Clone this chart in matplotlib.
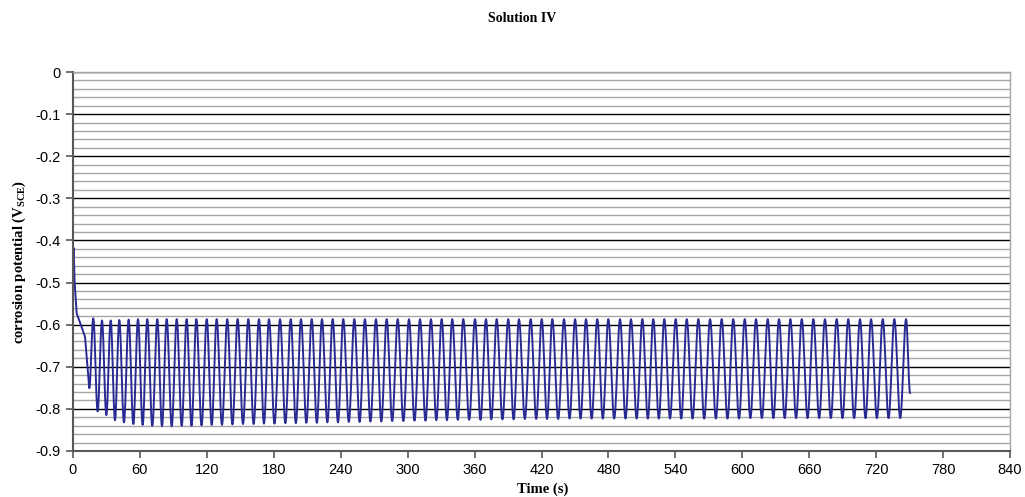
import numpy as np
import matplotlib.pyplot as plt
from matplotlib.ticker import MultipleLocator

# start of the record (time s, potential V)
start_t = [0.0, 0.6, 1.5, 3.3, 7.0, 10.8, 14.6]
start_v = [-0.44, -0.418, -0.50, -0.573, -0.60, -0.629, -0.751]

# oscillation maxima
peak_t = [18.2, 26.0, 33.8, 41.5, 49.9, 58.3, 66.6, 75.6, 84.0, 93.0,
          101.9, 110.6, 119.9, 128.8, 138.3, 147.6, 157.2, 166.7, 175.7, 185.6,
          195.2, 204.4, 214.0, 223.2, 232.8, 242.3, 252.2, 261.7, 271.6, 281.2,
          291.1, 301.2, 311.1, 320.9, 330.5, 340.0, 349.9, 360.4, 370.2, 379.8,
          390.2, 399.8, 410.3, 420.2, 429.7, 440.2, 450.1, 459.9, 470.0, 479.9,
          490.4, 500.2, 510.4, 520.2, 530.1, 540.3, 550.2, 560.6, 571.1, 581.5,
          591.9, 602.2, 612.3, 622.8, 632.9, 643.1, 653.3, 663.7, 674.1, 684.6,
          695.0, 705.5, 715.4, 725.9, 736.3, 746.8]
peak_v = [-0.585, -0.590, -0.590, -0.589, -0.588] + [-0.587] * 71

# minima between consecutive maxima
trough_v = [-0.806, -0.815, -0.827, -0.832, -0.836,
            -0.838, -0.840, -0.841, -0.841, -0.840, -0.840, -0.839,
            -0.838, -0.838, -0.837, -0.836, -0.836, -0.835, -0.835, -0.834,
            -0.834, -0.833, -0.833, -0.832, -0.832, -0.831, -0.831, -0.830, -0.830, -0.829,
            -0.829, -0.828, -0.828, -0.827, -0.827, -0.826, -0.826, -0.826, -0.825, -0.825,
            -0.825, -0.824, -0.824, -0.824, -0.824, -0.823, -0.823, -0.823, -0.823, -0.823,
            -0.823, -0.823, -0.823, -0.823, -0.823, -0.823, -0.823, -0.823, -0.823, -0.823,
            -0.823, -0.822, -0.822, -0.822, -0.822, -0.822, -0.822, -0.822, -0.822, -0.822,
            -0.822, -0.822, -0.822, -0.822, -0.822]

end_t, end_v = 750.4, -0.762

# extrema in time order
ext_t = [start_t[-1]]
ext_v = [start_v[-1]]
for i in range(len(peak_t)):
    ext_t.append(peak_t[i])
    ext_v.append(peak_v[i])
    if i < len(trough_v):
        ext_t.append((peak_t[i] + peak_t[i + 1]) / 2)
        ext_v.append(trough_v[i])
ext_t.append(end_t)
ext_v.append(end_v)

# smooth half-cosine strokes between extrema
t = list(start_t[:-1])
v = list(start_v[:-1])
for k in range(len(ext_t) - 1):
    s = np.linspace(0, 1, 14, endpoint=False)
    w = (1 - np.cos(np.pi * s)) / 2
    t.extend(ext_t[k] + (ext_t[k + 1] - ext_t[k]) * s)
    v.extend(ext_v[k] + (ext_v[k + 1] - ext_v[k]) * w)
t.append(ext_t[-1])
v.append(ext_v[-1])

fig = plt.figure(figsize=(10.25, 4.97), dpi=100)
ax = fig.add_axes([0.0712, 0.0926, 0.9142, 0.7625])

ax.set_xlim(0, 840)
ax.set_ylim(-0.9, 0)
ax.xaxis.set_major_locator(MultipleLocator(60))
ax.yaxis.set_major_locator(MultipleLocator(0.1))
ax.yaxis.set_minor_locator(MultipleLocator(0.02))
ax.grid(which='minor', axis='y', color='#a6a6a6', lw=1.0)
ax.grid(which='major', axis='y', color='black', lw=1.0)
ax.set_axisbelow(True)

ax.plot(t, v, color='#2a2a94', lw=1.4)

for side in ['top', 'right']:
    ax.spines[side].set_color('#a6a6a6')
    ax.spines[side].set_linewidth(1.0)
for side in ['left', 'bottom']:
    ax.spines[side].set_color('#595959')
    ax.spines[side].set_linewidth(1.5)

ax.tick_params(which='minor', length=0)
ax.tick_params(which='major', length=5, width=1.2, color='#595959', pad=4)
ax.set_yticks(np.arange(-0.9, 0.01, 0.1))
ax.set_yticklabels(['-0.9', '-0.8', '-0.7', '-0.6', '-0.5', '-0.4', '-0.3', '-0.2', '-0.1', '0'],
                   family='Liberation Sans', fontsize=10.5)
xt = np.arange(0, 841, 60)
ax.set_xticks(xt)
ax.set_xticklabels([str(x) for x in xt], family=['Liberation Sans Narrow', 'Liberation Sans'],
                   fontsize=10.5)

fig.text(0.509, 0.962, 'Solution IV', ha='center', va='center',
         family='Liberation Serif', weight='bold', fontsize=10)
fig.text(0.529, 0.016, 'Time (s)', ha='center', va='center',
         family='Liberation Serif', weight='bold', fontsize=10.5)
ax.set_ylabel(r'corrosion potential (V$_{\mathregular{SCE}}$)', family='Liberation Serif',
              weight='bold', fontsize=10.5, labelpad=5)

fig.savefig('out.png', dpi=100)
